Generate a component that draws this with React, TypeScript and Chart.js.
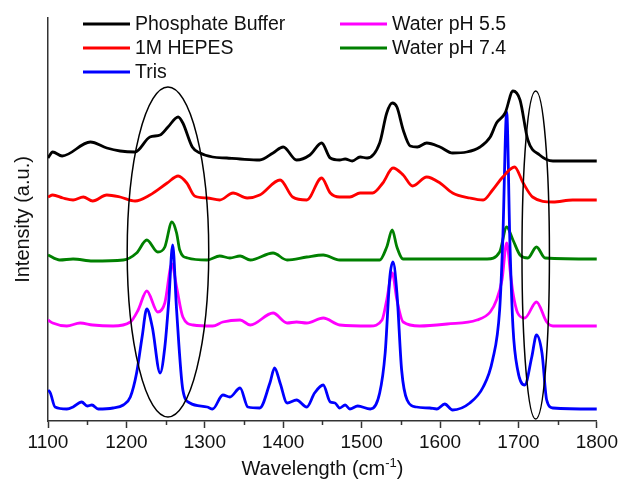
import React, { useEffect, useRef } from "react";
import { Chart, registerables } from "chart.js";

Chart.register(...registerables);

// Raman-style spectra, stacked with a vertical offset per buffer (wavenumber, intensity a.u.)
const phosphateBuffer: [number, number][] = [
  [1100, 263], [1106, 269], [1118, 265], [1154, 279], [1175, 273], [1192, 270], [1211, 269],
  [1230, 284], [1243, 286], [1253, 294], [1266, 304], [1272, 298], [1284, 274], [1294, 268],
  [1310, 264], [1328, 263], [1345, 262], [1370, 261], [1387, 268], [1400, 274], [1417, 261],
  [1434, 266], [1449, 278], [1460, 263], [1472, 261], [1479, 262], [1488, 260], [1498, 264],
  [1507, 263], [1523, 278], [1532, 308], [1539, 318], [1545, 314], [1553, 291], [1562, 275],
  [1571, 274], [1583, 278], [1600, 274], [1616, 268], [1634, 269], [1651, 274], [1664, 284],
  [1672, 298], [1683, 308], [1693, 330], [1702, 321], [1712, 281], [1727, 266], [1744, 260],
  [1800, 260],
];

const hepes1M: [number, number][] = [
  [1100, 224], [1106, 226], [1119, 223], [1132, 221], [1145, 224], [1157, 220], [1175, 226],
  [1192, 224], [1211, 220], [1230, 226], [1252, 238], [1266, 245], [1277, 238], [1287, 225],
  [1303, 223], [1319, 221], [1336, 228], [1354, 223], [1370, 226], [1396, 241], [1412, 224],
  [1430, 221], [1449, 243], [1460, 228], [1472, 224], [1485, 224], [1498, 228], [1514, 228],
  [1527, 238], [1540, 253], [1553, 246], [1565, 235], [1583, 244], [1600, 238], [1616, 228],
  [1638, 223], [1655, 221], [1667, 231], [1680, 244], [1695, 254], [1706, 238], [1718, 224],
  [1744, 219], [1769, 221], [1800, 221],
];

const tris: [number, number][] = [
  [1100, 31], [1103, 28], [1109, 14], [1124, 12], [1132, 14], [1143, 19], [1150, 15],
  [1156, 16], [1164, 12], [1183, 13], [1196, 16], [1205, 24], [1213, 48], [1220, 84],
  [1226, 112], [1233, 94], [1243, 48], [1249, 74], [1254, 120], [1259, 176], [1264, 111],
  [1272, 31], [1281, 18], [1303, 14], [1310, 12], [1323, 26], [1332, 24], [1345, 33],
  [1355, 14], [1370, 13], [1383, 38], [1389, 53], [1396, 38], [1405, 18], [1417, 21],
  [1430, 14], [1440, 28], [1451, 36], [1460, 19], [1466, 18], [1472, 13], [1479, 16],
  [1485, 12], [1495, 15], [1511, 12], [1523, 28], [1530, 68], [1536, 144], [1540, 159],
  [1545, 128], [1551, 51], [1558, 21], [1570, 14], [1587, 13], [1596, 12], [1606, 17],
  [1616, 11], [1638, 18], [1655, 34], [1667, 61], [1676, 111], [1680, 181], [1685, 309],
  [1689, 181], [1693, 94], [1699, 51], [1708, 36], [1717, 64], [1723, 86], [1730, 68],
  [1736, 21], [1744, 13], [1800, 12],
];

const waterPh55: [number, number][] = [
  [1100, 101], [1106, 98], [1124, 95], [1141, 98], [1157, 96], [1183, 95], [1205, 99],
  [1215, 111], [1226, 130], [1240, 109], [1249, 118], [1258, 157], [1264, 134], [1272, 104],
  [1285, 96], [1310, 95], [1323, 99], [1345, 101], [1358, 96], [1387, 108], [1405, 98],
  [1417, 99], [1430, 98], [1451, 103], [1472, 96], [1511, 95], [1526, 101], [1532, 121],
  [1539, 148], [1545, 121], [1553, 99], [1574, 95], [1609, 97], [1647, 101], [1664, 109],
  [1672, 121], [1679, 141], [1685, 178], [1690, 146], [1693, 128], [1699, 108], [1708, 103],
  [1723, 119], [1736, 99], [1744, 95], [1800, 95],
];

const waterPh74: [number, number][] = [
  [1100, 166], [1115, 161], [1132, 162], [1157, 160], [1196, 161], [1213, 168], [1226, 181],
  [1240, 169], [1249, 174], [1258, 199], [1264, 188], [1268, 171], [1278, 163], [1303, 161],
  [1319, 165], [1332, 163], [1345, 165], [1358, 161], [1387, 168], [1405, 161], [1430, 164],
  [1451, 166], [1472, 161], [1523, 161], [1532, 174], [1539, 191], [1545, 174], [1553, 162],
  [1660, 162], [1676, 169], [1685, 194], [1693, 181], [1702, 166], [1712, 163], [1723, 174],
  [1734, 163], [1800, 162],
];

const seriesLabels = ["Phosphate Buffer", "1M HEPES", "Tris", "Water pH 5.5", "Water pH 7.4"];
const seriesColors = ["#000000", "#ff0000", "#0000ff", "#ff00ff", "#008000"];
const seriesData = [phosphateBuffer, hepes1M, tris, waterPh55, waterPh74];

// Axis range and ticks
const xMin = 1100;
const xMax = 1800;
const xMajorStep = 100;
const xMinorTicks = [1150, 1250, 1350, 1450, 1550, 1650, 1750];
const yMin = 0;
const yMax = 403;

// Highlighted bands (centre wavenumber, centre intensity, half width, half height)
const bandCenters = [1253, 1722];
const bandLevels = [169, 166];
const bandHalfWidths = [52, 17.5];
const bandHalfHeights = [165, 164];

const FONT = "'Liberation Sans', Arial, Helvetica, sans-serif";

const spectraDecor = {
  id: "spectraDecor",
  afterDatasetsDraw(chart: any) {
    const { ctx, scales } = chart;
    const x = scales.x;
    const y = scales.y;
    ctx.save();
    ctx.strokeStyle = "#000";
    ctx.lineWidth = 1.5;
    bandCenters.forEach((c, i) => {
      const cx = x.getPixelForValue(c);
      const cy = y.getPixelForValue(bandLevels[i]);
      const rx = Math.abs(x.getPixelForValue(c + bandHalfWidths[i]) - cx);
      const ry = Math.abs(y.getPixelForValue(bandLevels[i] + bandHalfHeights[i]) - cy);
      ctx.beginPath();
      ctx.ellipse(cx, cy, rx, ry, 0, 0, Math.PI * 2);
      ctx.stroke();
    });
    ctx.restore();
  },
  afterDraw(chart: any) {
    const { ctx, scales, chartArea } = chart;
    const x = scales.x;
    ctx.save();

    // minor ticks on the wavenumber axis
    ctx.strokeStyle = "#333";
    ctx.lineWidth = 1.5;
    xMinorTicks.forEach((v) => {
      const px = Math.round(x.getPixelForValue(v)) + 0.5;
      ctx.beginPath();
      ctx.moveTo(px, chartArea.bottom);
      ctx.lineTo(px, chartArea.bottom + 4);
      ctx.stroke();
    });

    // two-column legend
    const colX = [83, 340];
    const rowY = [24, 48, 72];
    const lineLen = 47;
    ctx.font = `19.5px ${FONT}`;
    ctx.textBaseline = "middle";
    ctx.textAlign = "left";
    seriesLabels.forEach((label, i) => {
      const col = i < 3 ? 0 : 1;
      const row = i < 3 ? i : i - 3;
      const lx = colX[col];
      const ly = rowY[row];
      ctx.strokeStyle = seriesColors[i];
      ctx.lineWidth = 3;
      ctx.beginPath();
      ctx.moveTo(lx, ly);
      ctx.lineTo(lx + lineLen, ly);
      ctx.stroke();
      ctx.fillStyle = "#111";
      ctx.fillText(label, lx + lineLen + 5, ly + 1);
    });

    // x-axis title with superscript unit
    const main = "Wavelength (cm";
    const sup = "-1";
    const tail = ")";
    ctx.font = `20px ${FONT}`;
    const wMain = ctx.measureText(main).width;
    const wTail = ctx.measureText(tail).width;
    ctx.font = `13px ${FONT}`;
    const wSup = ctx.measureText(sup).width;
    const total = wMain + wSup + wTail;
    const cxTitle = (chartArea.left + chartArea.right) / 2;
    let tx = cxTitle - total / 2;
    const baseY = 475;
    ctx.textBaseline = "alphabetic";
    ctx.fillStyle = "#111";
    ctx.font = `20px ${FONT}`;
    ctx.fillText(main, tx, baseY);
    tx += wMain;
    ctx.font = `13px ${FONT}`;
    ctx.fillText(sup, tx, baseY - 8);
    tx += wSup;
    ctx.font = `20px ${FONT}`;
    ctx.fillText(tail, tx, baseY);
    ctx.restore();
  },
};

export default function App() {
  const canvasRef = useRef<HTMLCanvasElement | null>(null);

  useEffect(() => {
    const canvas = canvasRef.current;
    if (!canvas) return;
    const chart = new Chart(canvas, {
      type: "line",
      data: {
        datasets: seriesData.map((pts, i) => ({
          label: seriesLabels[i],
          data: pts.map(([wx, wy]) => ({ x: wx, y: wy })),
          borderColor: seriesColors[i],
          backgroundColor: seriesColors[i],
          borderWidth: 2.8,
          pointRadius: 0,
          fill: false,
          cubicInterpolationMode: "monotone" as const,
        })),
      },
      options: {
        responsive: false,
        maintainAspectRatio: false,
        animation: false,
        events: [],
        layout: { padding: { top: 18, right: 24, bottom: 0, left: 0 } },
        plugins: {
          legend: { display: false },
          tooltip: { enabled: false },
          title: { display: false },
        },
        scales: {
          x: {
            type: "linear",
            min: xMin,
            max: xMax,
            afterFit: (scale: any) => {
              scale.height = 58;
            },
            ticks: {
              stepSize: xMajorStep,
              color: "#111",
              padding: 3,
              maxRotation: 0,
              font: { family: FONT, size: 19 },
              callback: (v: any) => String(v),
            },
            grid: {
              display: true,
              drawOnChartArea: false,
              drawTicks: true,
              tickLength: 7,
              tickColor: "#333",
              tickWidth: 1.5,
            },
            border: { display: true, color: "#333", width: 1.5 },
          },
          y: {
            type: "linear",
            min: yMin,
            max: yMax,
            afterFit: (scale: any) => {
              scale.width = 48;
            },
            ticks: { display: false },
            grid: { display: false, drawTicks: false },
            border: { display: true, color: "#333", width: 1.5 },
            title: {
              display: true,
              text: "Intensity (a.u.)",
              color: "#111",
              font: { family: FONT, size: 20 },
              padding: { top: 11, bottom: 0 },
            },
          },
        },
      },
      plugins: [spectraDecor],
    });
    return () => chart.destroy();
  }, []);

  return (
    <div style={{ position: "fixed", left: 0, top: 0, width: 621, height: 479, background: "#fff" }}>
      <canvas ref={canvasRef} width={621} height={479} style={{ width: 621, height: 479, display: "block" }} />
    </div>
  );
}
